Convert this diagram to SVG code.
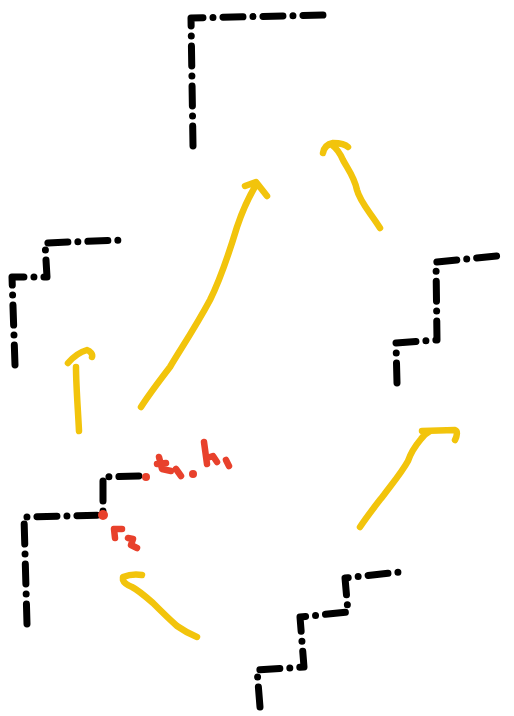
<svg xmlns="http://www.w3.org/2000/svg" width="514" height="716" viewBox="0 0 514 716">
<style>
.stair{fill:none;stroke:#000;stroke-width:7;stroke-linecap:round;stroke-linejoin:round;stroke-dasharray:20 10 0 10}
.arrow{fill:none;stroke:#F2C40C;stroke-width:6.5;stroke-linecap:round;stroke-linejoin:round}
.red{fill:none;stroke:#E8412C;stroke-width:6.5;stroke-linecap:round;stroke-linejoin:round}
</style>
<rect width="514" height="716" fill="#fff"/>
<g id="stair-top"><path class="stair" d="M193,146 L191,18 L326,15"/></g>
<g id="stair-left"><path class="stair" d="M15,365 L12,277 L47,277 L45,243 L123,240"/></g>
<g id="stair-right"><path class="stair" d="M397,383 L396,343 L437,340 L436,262 L506,255"/></g>
<g id="stair-bottom"><path class="stair" d="M260,707 L257,670 L304,667 L300,617 L348,612 L345,578 L400,572"/></g>
<g id="stair-bottomleft">
<path class="stair" d="M27,624 L24,517 L103,515 L103,477 L140,476"/>
<g id="red-marks">
<circle cx="146" cy="477" r="4" fill="#E8412C"/>
<path class="red" d="M159,457 L162,469 L171,471 M157,464 L166,463"/>
<path class="red" d="M176,469 L181,476"/>
<circle cx="193" cy="474" r="4" fill="#E8412C"/>
<path class="red" d="M204,442 L207,464 M207,458 L213,456 L217,462"/>
<path class="red" d="M226,460 L229,466"/>
<circle cx="103" cy="515" r="5" fill="#E8412C"/>
<path class="red" d="M115,538 L114,529 L122,529"/>
<path class="red" d="M128,538 L133,539 L131,545 L137,548"/>
</g>
</g>
<g id="connectors">
<path class="arrow" d="M141,407 C150,393 160,380 170,367 C180,350 195,328 210,300 C220,280 230,250 237,227 C242,212 250,195 256,185 M245,186 L256,182 L267,196"/>
<path class="arrow" d="M380,228 C370,212 360,202 357,190 C354,176 347,168 343,160 C340,153 336,148 332,145 M323,153 C324,147 328,144 333,143 C340,143 346,145 348,147"/>
<path class="arrow" d="M79,431 C78,410 76,385 76,367 M68,363 C74,356 80,352 87,350 C90,351 93,354 92,357"/>
<path class="arrow" d="M360,527 C368,515 376,505 383,496 C392,484 402,472 408,461 C411,452 416,445 421,439 C424,435 428,432 430,431 M422,431 L455,430 C458,431 457,436 455,440"/>
<path class="arrow" d="M197,637 C190,634 184,631 177,626 C168,618 160,610 153,603 C145,596 138,590 132,587 C127,585 124,583 123,580 L123,577 C128,575 136,574 142,575"/>
</g>
</svg>
